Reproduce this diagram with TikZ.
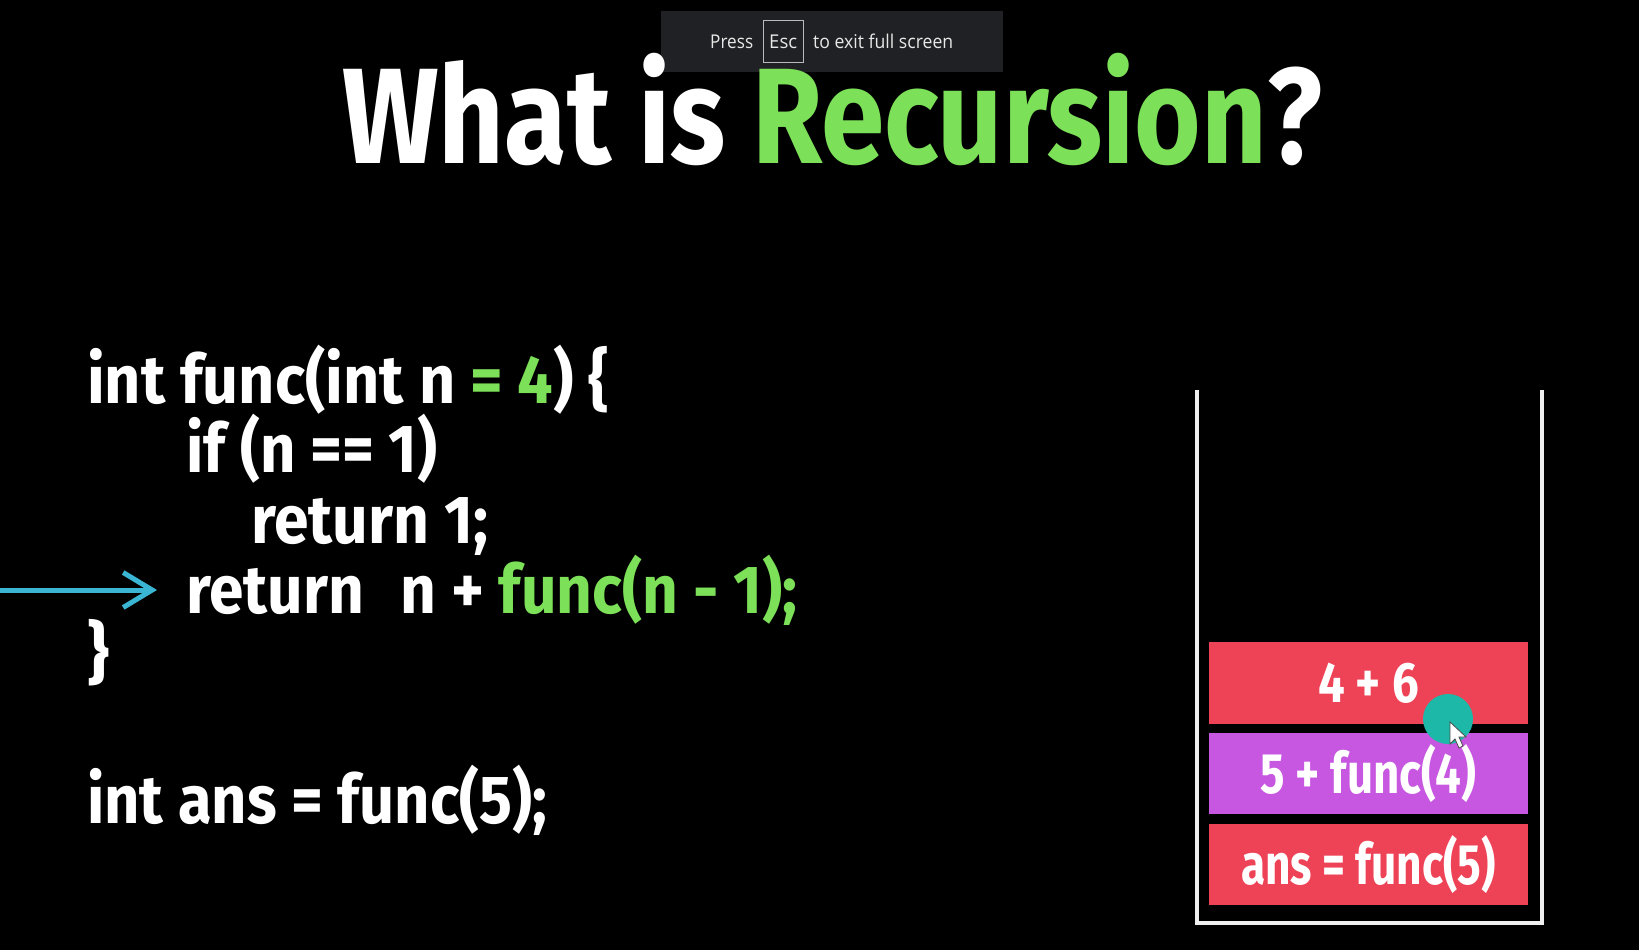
\documentclass[tikz,border=0pt]{standalone}
\usepackage{fontspec}
\usepackage{graphicx}
\setmainfont{Fira Sans}
\newfontfamily\bannerfont{Open Sans}
\usetikzlibrary{arrows.meta}
\definecolor{recgreen}{RGB}{124,224,88}
\definecolor{arrowblue}{RGB}{58,182,212}
\definecolor{boxred}{RGB}{238,66,86}
\definecolor{boxpurple}{RGB}{199,87,224}
\definecolor{tealdot}{RGB}{30,184,168}
\definecolor{banner}{RGB}{32,33,36}
\definecolor{bantext}{RGB}{232,232,232}
\definecolor{wallcol}{RGB}{240,240,240}
\newcommand\fitw[2]{\resizebox{#1pt}{\height}{#2}}
\tikzset{
  txt/.style={anchor=base west, inner sep=0pt, text=white},
  codeline/.style={txt, font=\bfseries\fontsize{68}{70}\selectfont},
  bantxt/.style={anchor=base west, inner sep=0pt, text=bantext, font=\bannerfont\fontsize{19}{22}\selectfont},
  stackbox/.style={inner sep=0pt, text=white, minimum width=319pt, font=\bfseries\fontsize{57}{60}\selectfont},
  wall/.style={draw=wallcol, line width=4pt},
  codearrow/.style={draw=arrowblue, line width=5pt, -{Straight Barb[length=29pt,width=35pt]}}
}
\begin{document}
\begin{tikzpicture}[x=1pt,y=-1pt]
\fill[black] (0,0) rectangle (1639,950);
\useasboundingbox (0,0) rectangle (1639,950);
% banner
\fill[banner] (661,11) rectangle (1003,72);
\node[bantxt] (press) at (710,49) {\fitw{43}{Press}};
\node[draw=bantext!80!black, line width=1pt, minimum width=40pt, minimum height=42pt, inner sep=0pt] (esc) at (783,42) {};
\node[bantxt] (esctxt) at (769,49) {\fitw{28}{Esc}};
\node[bantxt] (exit) at (813,49) {\fitw{140}{to exit full screen}};
% title
\node[txt, font=\bfseries\fontsize{136}{150}\selectfont] (title) at (342,163) {\fitw{980}{What is \textcolor{recgreen}{Recursion}?}};
% code
\node[codeline] (l1) at (87,403) {\fitw{522}{int func(int n \textcolor{recgreen}{= 4}) \{}};
\node[codeline] (l2) at (186,472) {\fitw{251}{if (n == 1)}};
\node[codeline] (l3) at (251,543) {\fitw{237}{return 1;}};
\node[codeline] (l4) at (186,613) {\fitw{611}{return\hspace{0.35em} n + \textcolor{recgreen}{func(n {-} 1);}}};
\node[codeline] (l5) at (87,676) {\}};
\node[codeline] (l6) at (87,823) {\fitw{460}{int ans = func(5);}};
% arrow
\coordinate (arrS) at (0,590);
\coordinate (arrE) at (157,590);
\draw[codearrow] (arrS) -- (arrE);
% stack
\coordinate (wTL) at (1197,390);
\coordinate (wBL) at (1197,923);
\coordinate (wBR) at (1542,923);
\coordinate (wTR) at (1542,390);
\draw[wall] (wTL) -- (wBL) -- (wBR) -- (wTR);
\node[stackbox, fill=boxred, minimum height=82pt] (b3) at (1368.5,683) {\fitw{101}{4 + 6}};
\node[stackbox, fill=boxpurple, minimum height=81pt] (b2) at (1368.5,773.5) {\fitw{216}{5 + func(4)}};
\node[stackbox, fill=boxred, minimum height=81pt] (b1) at (1368.5,864.5) {\fitw{255}{ans = func(5)}};
% cursor
\fill[tealdot] (1448,719) circle (25);
\filldraw[fill=white, draw=black!70, line width=0.8pt] (1450,722) -- (1450,744) -- (1455,739) -- (1459,748) -- (1463,746) -- (1459,737) -- (1466,737) -- cycle;
\end{tikzpicture}
\end{document}
